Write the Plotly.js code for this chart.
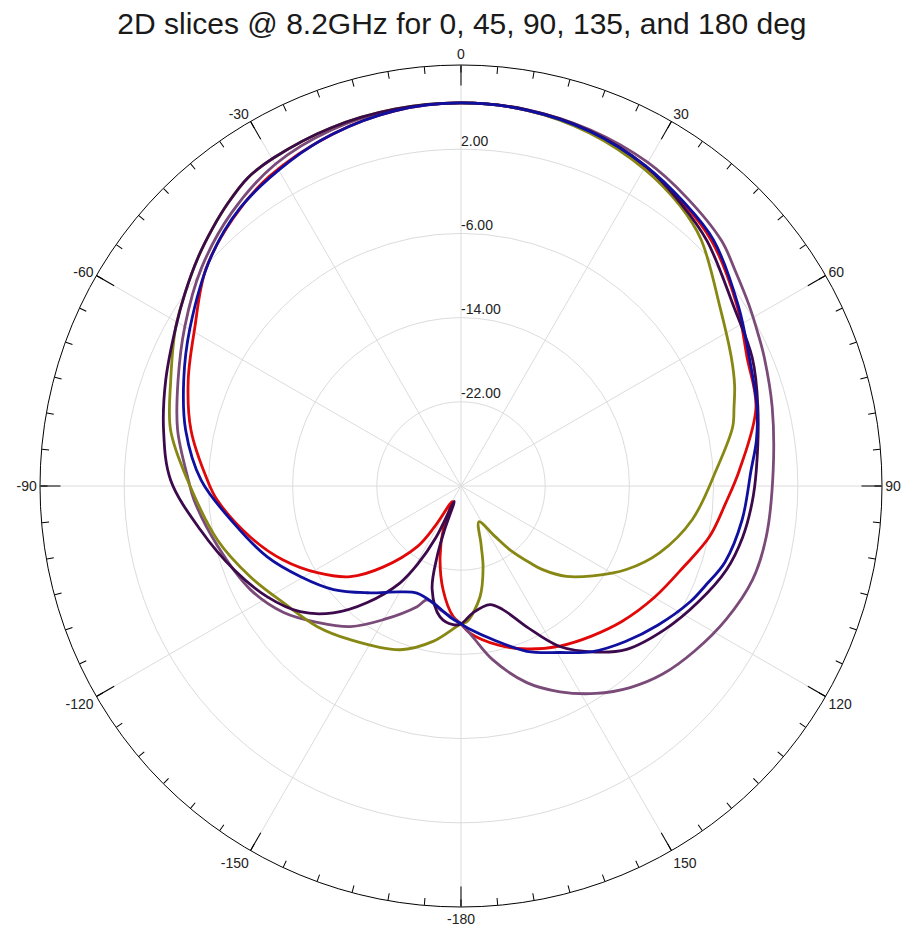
<!DOCTYPE html>
<html><head><meta charset="utf-8">
<script src="https://cdn.plot.ly/plotly-3.0.1.min.js"></script>
<style>html,body{margin:0;padding:0;background:#fff}#chart{width:904px;height:932px}</style>
</head><body><div id="chart"></div>
<script>
// ---- data (theta in deg, gain in dB) ----
const angleTickVals = [0,30,60,90,120,150,180,210,240,270,300,330];
const angleTickText = ['0','30','60','90','120','150','-180','-150','-120','-90','-60','-30'];
const radialTickVals = [-22,-14,-6,2];
const radialTickText = ['-22.00','-14.00','-6.00','2.00'];

const thetaRed = [-180,-176.5,-170.2,-163.5,-157,-150.6,-147,-144.2,-136.1,-129.3,-121.1,-112.6,-103.6,-93.3,-88.7,-78.3,-68.8,-59.4,-49.7,-40.4,-31.7,-20,-10,0,10,20,30,38,45.7,57,65.8,75.1,86.7,93.7,101.5,110,120,130,139,148,158,167,176.5,180];
const gainRed  = [-16.9,-17.6,-20.0,-23.0,-25.8,-28.3,-25.3,-22.9,-19.3,-16.4,-14.05,-11.7,-9.4,-6.8,-5.9,-3.8,-2.2,-0.6,1.8,3.4,4.6,5.6,6.2,6.4,6.25,5.8,5.0,4.2,3.3,1.3,-0.2,-1.0,-3.5,-4.8,-5.9,-7.5,-8.8,-10.0,-11.1,-12.1,-13.3,-14.5,-16.0,-16.9];

const thetaBlue = [-180,-175.2,-166.5,-157.6,-150.1,-138.7,-129.1,-119.5,-110.1,-99.2,-88.7,-78.5,-69.1,-59.8,-47.6,-38.4,-27.7,-20,-10,0,10,20,30,38,45.7,57.1,65.9,75.1,81.2,86.9,96.9,106.1,112,116.8,125.3,133.4,141.5,149.3,158.3,168.3,176,180];
const gainBlue  = [-16.9,-17.5,-18.6,-19.0,-18.4,-16.5,-14.4,-12.5,-10.4,-8.1,-5.3,-3.3,-1.8,-0.2,2.2,3.75,4.9,5.6,6.2,6.4,6.25,5.85,5.1,4.3,3.5,1.4,0.0,-0.9,-1.6,-2.4,-3.1,-3.9,-4.9,-5.6,-7.1,-8.5,-9.9,-11.6,-13.1,-15.1,-16.3,-16.9];

const thetaDark = [-180,-176.7,-170.9,-164.4,-161.3,-159.5,-156.5,-154,-151,-147.8,-141.2,-134.8,-128,-119.8,-110.2,-99.6,-88.8,-79.4,-70.3,-61,-55,-49,-44,-39.6,-34.7,-29.7,-20,-10,0,10,20,30,38,45.1,56.8,66.2,75,86.9,93.3,100.3,107.5,116,125,134.6,141,148.4,154.9,161.3,166.3,174.6,180];
const gainDark  = [-16.9,-16.8,-17.4,-19.8,-22.9,-25.5,-28.4,-24.5,-21.5,-19.1,-15.8,-12.9,-10.6,-8.8,-7.0,-4.9,-2.4,-1.25,-0.2,1.0,2.0,3.1,4.0,4.8,5.6,5.9,6.2,6.35,6.4,6.3,5.9,5.1,4.0,3.0,1.0,0.24,-0.8,-1.9,-2.3,-2.8,-3.55,-4.9,-6.3,-7.9,-9.7,-12.1,-15.2,-17.6,-18.4,-17.9,-16.9];

const thetaMauve = [-180,-170.4,-163.4,-160,-149.8,-141.8,-133.6,-125.5,-116.2,-104,-93,-88.8,-78.8,-69.5,-60,-50,-40,-30,-20,-10,0,10,20,30,38,46.7,52,58,63,67,75.8,87.1,99.5,107.8,116.7,125,133,140,147,154.3,161.5,169.6,175.5,180];
const gainMauve  = [-16.9,-18.1,-18.7,-17.8,-15.3,-13.0,-11.2,-9.3,-7.7,-6.2,-4.6,-4.1,-2.55,-1.3,0.3,2.2,3.9,5.3,6.0,6.3,6.4,6.3,6.0,5.5,4.8,4.0,3.1,2.3,1.7,1.3,0.5,-0.3,-0.6,-0.9,-1.8,-2.8,-3.8,-5.0,-6.5,-8.3,-10.3,-13.2,-15.6,-16.9];

const thetaOlive = [-180,-169.8,-159.6,-144.2,-134.4,-123.3,-113.3,-102.5,-88.7,-79.1,-70,-61,-55,-49,-44,-39.6,-34.7,-29.7,-20,-10,0,10,20,30,38,44.2,55.4,64.5,69.8,73.9,77.8,86.4,98.3,108.6,116.8,124.3,130.6,135.7,138.1,142.6,146.2,153.4,161.1,164.8,170.3,177.5,180];
const gainOlive  = [-16.9,-15.0,-13.4,-12.0,-10.9,-9.8,-8.2,-6.3,-4.0,-1.9,-0.65,1.0,2.0,3.1,4.0,4.8,5.6,5.9,6.2,6.35,6.4,6.25,5.7,4.8,3.8,2.7,-0.1,-1.55,-2.3,-3.0,-3.6,-5.7,-7.8,-10.1,-12.4,-14.85,-16.8,-18.9,-20.2,-22.4,-24.3,-26.2,-24.1,-22.0,-19.3,-17.1,-16.9];

const seriesNames = ['0 deg','45 deg','90 deg','135 deg','180 deg'];

// ---- drawing ----
const font = 'Liberation Sans, Arial, sans-serif';
function curve(theta, r, color, name) {
  return {type:'scatterpolar', mode:'lines', theta:theta, r:r, name:name, subplot:'polar',
          line:{color:color, width:2.8, shape:'spline', smoothing:1}, hoverinfo:'skip'};
}
const traces = [
  curve(thetaRed,   gainRed,   '#e00808', seriesNames[0]),
  curve(thetaMauve, gainMauve, '#7a4a78', seriesNames[3]),
  curve(thetaOlive, gainOlive, '#878714', seriesNames[4]),
  curve(thetaDark,  gainDark,  '#3c0a4c', seriesNames[2]),
  curve(thetaBlue,  gainBlue,  '#1010a0', seriesNames[1]),
  {type:'scatterpolar', mode:'text', subplot:'polar', r:radialTickVals,
   theta:radialTickVals.map(()=>0), text:radialTickText, textposition:'top right',
   textfont:{family:font, size:14, color:'#222'}, hoverinfo:'skip', cliponaxis:false},
  {type:'scatterpolar', mode:'lines', subplot:'polar2', r:[], theta:[], hoverinfo:'skip'}
];
const dom = {x:[0.04425,0.97566], y:[0.02682,0.93026]};
const layout = {
  width:904, height:932, showlegend:false,
  margin:{l:0,r:0,t:0,b:0}, paper_bgcolor:'#fff',
  title:{text:'2D slices @ 8.2GHz for 0, 45, 90, 135, and 180 deg', x:0.511, xanchor:'center',
         y:0.975, yanchor:'middle', font:{family:font, size:30, color:'#1a1a1a'}},
  polar:{
    domain:dom, bgcolor:'#fff',
    angularaxis:{rotation:90, direction:'clockwise', thetaunit:'degrees',
      tickmode:'array', tickvals:angleTickVals, ticktext:angleTickText,
      ticks:'inside', ticklen:20, tickwidth:1, tickcolor:'#000',
      showline:true, linecolor:'#000', linewidth:1,
      showgrid:true, gridcolor:'#dcdcdc', gridwidth:1,
      tickfont:{family:font, size:14, color:'#222'}},
    radialaxis:{range:[-30,10], tickmode:'array', tickvals:radialTickVals,
      showticklabels:false, ticks:'', showline:false, angle:90,
      showgrid:true, gridcolor:'#dcdcdc', gridwidth:1}
  },
  polar2:{
    domain:dom, bgcolor:'rgba(0,0,0,0)',
    angularaxis:{rotation:90, direction:'clockwise', tickmode:'linear', tick0:0, dtick:5,
      ticks:'inside', ticklen:7, tickwidth:1, tickcolor:'#000',
      showticklabels:false, showgrid:false, showline:false},
    radialaxis:{visible:false, range:[-30,10]}
  }
};
Plotly.newPlot('chart', traces, layout, {staticPlot:true, displayModeBar:false});
</script></body></html>
